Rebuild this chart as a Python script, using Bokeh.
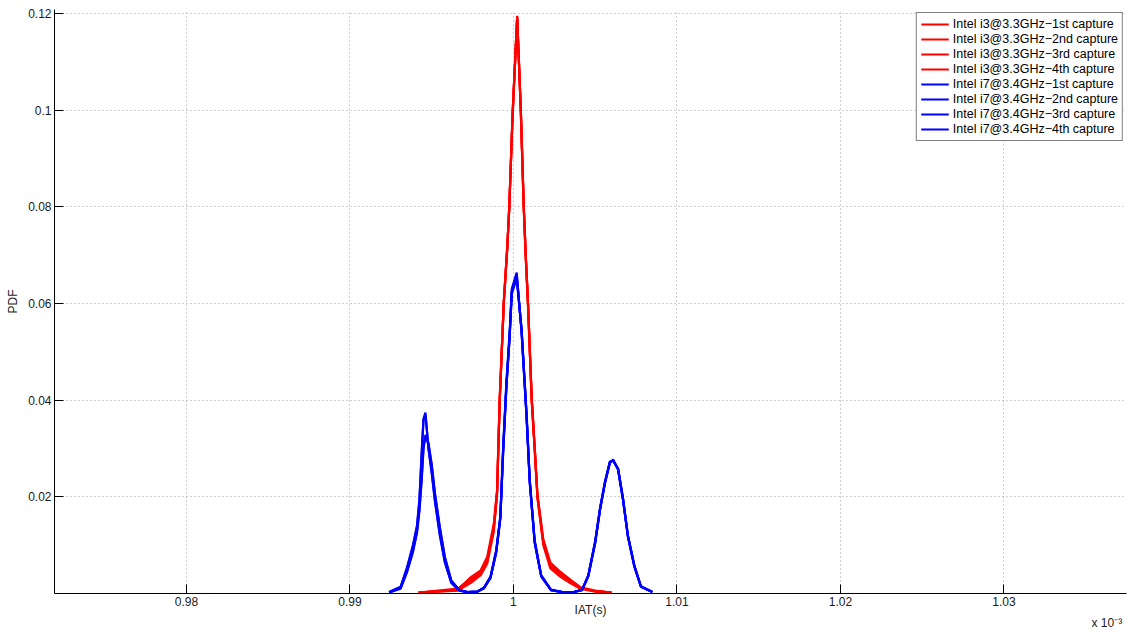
from bokeh.plotting import figure
from bokeh.models import FixedTicker, Label, Range1d
from bokeh.embed import file_html
from bokeh.resources import INLINE

# ---- data (IAT in units of 1e-3 s, PDF) ----
x_ticks = [0.98, 0.99, 1.0, 1.01, 1.02, 1.03]
x_tick_labels = ["0.98", "0.99", "1", "1.01", "1.02", "1.03"]
y_ticks = [0.02, 0.04, 0.06, 0.08, 0.1, 0.12]
y_tick_labels = ["0.02", "0.04", "0.06", "0.08", "0.1", "0.12"]

i3_x = [0.9942, 0.9966, 0.9974, 0.9980, 0.9984, 0.9988, 0.9990, 0.99916, 0.99941,
        0.99963, 0.99975, 0.99995, 1.00023, 1.00045, 1.00063, 1.00075, 1.00089,
        1.00112, 1.0013, 1.00147, 1.00183, 1.00226, 1.0029, 1.0035, 1.0041, 1.0050, 1.0060]
i3_cap1 = [0.0002, 0.0008, 0.0034, 0.0048, 0.0076, 0.0145, 0.0214, 0.0400, 0.0600,
           0.0720, 0.0800, 0.0990, 0.1195, 0.1000, 0.0800, 0.0700, 0.0600,
           0.0400, 0.0300, 0.0200, 0.0103, 0.0055, 0.0038, 0.0024, 0.0011, 0.0005, 0.0002]
i3_cap2 = [0.0002, 0.0006, 0.0022, 0.0038, 0.0062, 0.0128, 0.0205, 0.0395, 0.0598,
           0.0718, 0.0805, 0.0995, 0.1192, 0.1005, 0.0805, 0.0705, 0.0605,
           0.0405, 0.0305, 0.0205, 0.0112, 0.0064, 0.0044, 0.0028, 0.0013, 0.0006, 0.0002]
i3_cap3 = [0.0002, 0.0010, 0.0030, 0.0044, 0.0070, 0.0138, 0.0210, 0.0398, 0.0602,
           0.0722, 0.0798, 0.0988, 0.1190, 0.0998, 0.0798, 0.0698, 0.0598,
           0.0398, 0.0298, 0.0198, 0.0100, 0.0052, 0.0034, 0.0021, 0.0010, 0.0004, 0.0002]
i3_cap4 = [0.0002, 0.0007, 0.0026, 0.0041, 0.0066, 0.0133, 0.0208, 0.0402, 0.0604,
           0.0716, 0.0802, 0.0992, 0.1193, 0.1002, 0.0802, 0.0702, 0.0602,
           0.0402, 0.0302, 0.0202, 0.0107, 0.0059, 0.0040, 0.0025, 0.0012, 0.0005, 0.0002]

i7_x = [0.9924, 0.9931, 0.9935, 0.99385, 0.9941, 0.99425, 0.9944, 0.9945, 0.99462,
        0.9948, 0.9950, 0.9952, 0.9955, 0.9958, 0.9962, 0.9967, 0.9972, 0.9978,
        0.9982, 0.9986, 0.99895, 0.9992, 0.99937, 0.99957, 0.99977, 0.9999, 1.0002,
        1.0005, 1.0008, 1.0010, 1.0013, 1.0017, 1.0023, 1.0030, 1.0037, 1.0042,
        1.00458, 1.0050, 1.0053, 1.0056, 1.0059, 1.0061, 1.0064, 1.0067, 1.0070,
        1.0074, 1.0078, 1.0085]
i7_cap1 = [0.0003, 0.0014, 0.0055, 0.0100, 0.0140, 0.0195, 0.0300, 0.0362, 0.0374,
           0.0300, 0.0250, 0.0190, 0.0120, 0.0065, 0.0022, 0.0006, 0.0003, 0.0004,
           0.0012, 0.0035, 0.0090, 0.0160, 0.0300, 0.0437, 0.0540, 0.0630, 0.0664,
           0.0540, 0.0367, 0.0229, 0.0105, 0.0035, 0.0007, 0.0003, 0.0003, 0.0007,
           0.0035, 0.0104, 0.0173, 0.0228, 0.0270, 0.0277, 0.0256, 0.0194, 0.0118,
           0.0055, 0.0014, 0.0003]
i7_cap2 = [0.0002, 0.0010, 0.0045, 0.0085, 0.0125, 0.0170, 0.0240, 0.0300, 0.0325,
           0.0310, 0.0265, 0.0205, 0.0135, 0.0075, 0.0026, 0.0007, 0.0003, 0.0004,
           0.0011, 0.0032, 0.0085, 0.0155, 0.0290, 0.0425, 0.0530, 0.0620, 0.0652,
           0.0545, 0.0372, 0.0233, 0.0108, 0.0037, 0.0007, 0.0003, 0.0003, 0.0008,
           0.0037, 0.0107, 0.0176, 0.0230, 0.0272, 0.0275, 0.0258, 0.0197, 0.0120,
           0.0057, 0.0015, 0.0003]
i7_cap3 = [0.0003, 0.0013, 0.0052, 0.0097, 0.0137, 0.0190, 0.0295, 0.0358, 0.0370,
           0.0302, 0.0252, 0.0193, 0.0123, 0.0067, 0.0023, 0.0006, 0.0003, 0.0004,
           0.0012, 0.0034, 0.0088, 0.0158, 0.0297, 0.0432, 0.0536, 0.0626, 0.0660,
           0.0542, 0.0369, 0.0231, 0.0106, 0.0036, 0.0007, 0.0003, 0.0003, 0.0007,
           0.0036, 0.0105, 0.0174, 0.0229, 0.0271, 0.0276, 0.0257, 0.0195, 0.0119,
           0.0056, 0.0014, 0.0003]
i7_cap4 = [0.0002, 0.0011, 0.0047, 0.0088, 0.0128, 0.0174, 0.0245, 0.0303, 0.0328,
           0.0312, 0.0268, 0.0208, 0.0137, 0.0077, 0.0027, 0.0007, 0.0003, 0.0004,
           0.0011, 0.0033, 0.0086, 0.0156, 0.0292, 0.0428, 0.0533, 0.0623, 0.0655,
           0.0547, 0.0374, 0.0235, 0.0110, 0.0038, 0.0008, 0.0003, 0.0003, 0.0008,
           0.0038, 0.0108, 0.0177, 0.0231, 0.0273, 0.0274, 0.0259, 0.0198, 0.0121,
           0.0058, 0.0015, 0.0003]

i3_series = [("Intel i3@3.3GHz\u22121st capture", i3_cap1),
             ("Intel i3@3.3GHz\u22122nd capture", i3_cap2),
             ("Intel i3@3.3GHz\u22123rd capture", i3_cap3),
             ("Intel i3@3.3GHz\u22124th capture", i3_cap4)]
i7_series = [("Intel i7@3.4GHz\u22121st capture", i7_cap1),
             ("Intel i7@3.4GHz\u22122nd capture", i7_cap2),
             ("Intel i7@3.4GHz\u22123rd capture", i7_cap3),
             ("Intel i7@3.4GHz\u22124th capture", i7_cap4)]

FONT = "Liberation Sans"

p = figure(width=1137, height=634, output_backend="svg", toolbar_location=None,
           x_range=Range1d(0.97193, 1.0375), y_range=Range1d(0.0, 0.1208),
           min_border_left=54, min_border_right=11, min_border_top=9, min_border_bottom=41)
p.outline_line_color = None
p.background_fill_color = "white"
p.border_fill_color = "white"

for name, ys in i3_series:
    p.line(i3_x, ys, line_color="#ff0000", line_width=2.2, legend_label=name)
for name, ys in i7_series:
    p.line(i7_x, ys, line_color="#0000ff", line_width=2.2, legend_label=name)

for ax, ticks, labels in ((p.xaxis[0], x_ticks, x_tick_labels), (p.yaxis[0], y_ticks, y_tick_labels)):
    ax.ticker = FixedTicker(ticks=ticks)
    ax.major_label_overrides = {t: l for t, l in zip(ticks, labels)}
    ax.major_tick_in = 9
    ax.major_tick_out = 0
    ax.minor_tick_line_color = None
    ax.axis_line_color = "black"
    ax.major_tick_line_color = "black"
    ax.major_label_text_font = FONT
    ax.major_label_text_font_size = "12px"
    ax.major_label_text_color = "#1a1a1a"
    ax.axis_label_text_font = FONT
    ax.axis_label_text_font_size = "12px"
    ax.axis_label_text_font_style = "normal"
    ax.axis_label_text_color = "#1a1a1a"

p.xaxis.axis_label = "IAT(s)"
p.xaxis.major_label_standoff = 3
p.xaxis.axis_label_standoff = -6
p.yaxis.axis_label = "PDF"
p.yaxis.major_label_standoff = 3
p.yaxis.axis_label_standoff = 5

for g in (p.xgrid[0], p.ygrid[0]):
    g.grid_line_color = "#a0a0a0"
    g.grid_line_dash = "1 3"
    g.grid_line_width = 1

lg = p.legend[0]
lg.location = "top_right"
lg.margin = 3
lg.padding = 4
lg.spacing = 1
lg.label_height = 14
lg.glyph_height = 14
lg.glyph_width = 28
lg.label_standoff = 4
lg.label_text_font = FONT
lg.label_text_font_size = "12.5px"
lg.label_text_color = "black"
lg.border_line_color = "black"
lg.border_line_width = 1
lg.background_fill_alpha = 1.0

# "x 10^-3" exponent note, placed in a panel below the x axis
p.add_layout(Label(x=1037, y=11, x_units="screen", y_units="screen", text="x 10\u207b\u00b3",
                   text_font=FONT, text_font_size="12px", text_color="#1a1a1a",
                   text_baseline="middle", text_align="left"), "below")

open("out.html", "w").write(file_html(p, INLINE))
